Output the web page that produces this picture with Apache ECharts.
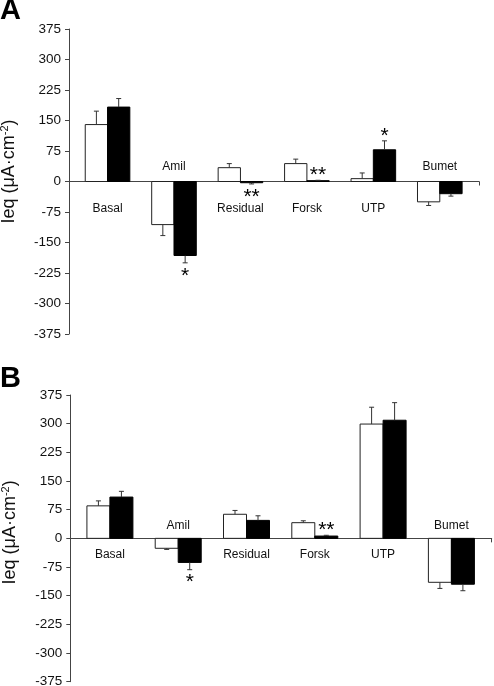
<!DOCTYPE html>
<html><head><meta charset="utf-8">
<script src="https://cdn.jsdelivr.net/npm/echarts@6/dist/echarts.min.js"></script>
<style>html,body{margin:0;padding:0;background:#fff}#c{width:494px;height:686px}</style>
</head><body><div id="c"></div>
<script>
// ---- data ----
const categories = ['Basal', 'Amil', 'Residual', 'Forsk', 'UTP', 'Bumet'];
// Panel A
const whiteA    = [140, -106, 34, 44, 7, -50];
const whiteErrA = [33, 27, 10, 11, 14, 9];
const blackA    = [183, -182, -3, 2, 78, -30];
const blackErrA = [21, 18, 3, 1, 22, 6];
const sigA      = ['', '*', '**', '**', '*', ''];
// Panel B
const whiteB    = [85, -26, 63, 41, 299, -115];
const whiteErrB = [13, 3, 10, 5, 44, 16];
const blackB    = [108, -63, 47, 6, 309, -120];
const blackErrB = [15, 19, 12, 2, 46, 17];
const sigB      = ['', '*', '', '**', '', ''];
// y axis ticks
const yMin = -375, yMax = 375, yStep = 75;

// ---- style ----
const FONT = '"Liberation Sans", Arial, Helvetica, sans-serif';
const AX = '#444';
const xMin = -0.58, xMax = 5.59;

const chart = echarts.init(document.getElementById('c'));

function barSeries(k, name, vals, side, bw, fill, stroke) {
  return { type: 'custom', name: name, xAxisIndex: k, yAxisIndex: k, z: 3,
    data: vals.map((v, i) => [i, v]), encode: { x: 0, y: 1 },
    renderItem: function (params, api) {
      const x = api.value(0), v = api.value(1);
      const p0 = api.coord([x, 0]);
      const p1 = api.coord([x, v]);
      const cx = p0[0] + side * bw / 2;
      return { type: 'rect',
        shape: { x: cx - bw / 2, y: Math.min(p0[1], p1[1]), width: bw, height: Math.abs(p1[1] - p0[1]) },
        style: { fill: fill, stroke: stroke, lineWidth: 1 } };
    } };
}

function panelSeries(k, white, whiteErr, black, blackErr, sig, cfg) {
  const bw = cfg.barW;
  const errData = [];
  white.forEach((v, i) => errData.push([i, v, whiteErr[i], -1]));
  black.forEach((v, i) => errData.push([i, v, blackErr[i], 1]));
  return [
    barSeries(k, 'control', white, -1, bw, '#fff', '#222'),
    barSeries(k, 'treated', black, 1, bw, '#000', '#000'),
    { type: 'custom', xAxisIndex: k, yAxisIndex: k, z: 5,
      data: errData, encode: { x: 0, y: 1 },
      renderItem: function (params, api) {
        const x = api.value(0), v = api.value(1), e = api.value(2), side = api.value(3);
        const s = v < 0 ? -1 : 1;
        const p0 = api.coord([x, v]);
        const p1 = api.coord([x, v + s * e]);
        const cx = p0[0] + side * bw / 2;
        const st = { stroke: '#333', lineWidth: 1 };
        return { type: 'group', children: [
          { type: 'line', shape: { x1: cx, y1: p0[1], x2: cx, y2: p1[1] }, style: st },
          { type: 'line', shape: { x1: cx - 2.5, y1: p1[1], x2: cx + 2.5, y2: p1[1] }, style: st }
        ] };
      } },
    { type: 'custom', xAxisIndex: k, yAxisIndex: k, z: 6,
      data: black.map((v, i) => [i, v, blackErr[i]]), encode: { x: 0, y: 1 },
      renderItem: function (params, api) {
        const t = sig[params.dataIndex];
        if (!t) return null;
        const x = api.value(0), v = api.value(1), e = api.value(2);
        const s = v < 0 ? -1 : 1;
        const p = api.coord([x, v + s * e]);
        const cx = p[0] + bw / 2;
        const cy = p[1] - s * cfg.starGap + cfg.starShift;
        return { type: 'text', x: cx, y: cy,
          style: { text: t, fill: '#000', fontSize: 21, fontFamily: FONT,
                   align: 'center', verticalAlign: 'middle' } };
      } },
    { type: 'custom', xAxisIndex: k, yAxisIndex: k, z: 6,
      data: categories.map((c, i) => [i, 0]), encode: { x: 0, y: 1 },
      renderItem: function (params, api) {
        const i = params.dataIndex;
        const above = white[i] < 0 && black[i] < 0;
        const p = api.coord([api.value(0), 0]);
        return { type: 'text', x: p[0], y: p[1] + (above ? -cfg.labUp : cfg.labDown),
          style: { text: categories[i], fill: '#111', fontSize: 12, fontFamily: FONT,
                   align: 'center', verticalAlign: 'middle' } };
      } }
  ];
}

function xAx(k) {
  return { type: 'value', gridIndex: k, min: xMin, max: xMax,
    axisLine: { show: true, onZero: true, lineStyle: { color: AX, width: 1 } },
    axisTick: { show: true, customValues: [xMax], length: 4, lineStyle: { color: AX } },
    axisLabel: { show: false }, splitLine: { show: false } };
}
function yAx(k, pad) {
  return { type: 'value', gridIndex: k, min: yMin, max: yMax, interval: yStep,
    name: '{m|Ieq (μA·cm}{s|-2}{m|)}', nameLocation: 'middle', nameGap: 50,
    nameTextStyle: { padding: [0, 0, 0, pad], rich: {
      m: { fontSize: 18, fontFamily: FONT, color: '#111', lineHeight: 20 },
      s: { fontSize: 11, fontFamily: FONT, color: '#111', verticalAlign: 'top', lineHeight: 20 } } },
    axisLine: { show: true, onZero: false, lineStyle: { color: AX, width: 1 } },
    axisTick: { show: true, length: 4, lineStyle: { color: AX } },
    axisLabel: { fontSize: 13.5, fontFamily: FONT, color: '#111', margin: 8 },
    splitLine: { show: false } };
}

chart.setOption({
  animation: false,
  backgroundColor: '#fff',
  title: [
    { text: 'A', left: 0, top: -4, padding: 0, textStyle: { fontSize: 29, fontWeight: 'bold', fontFamily: FONT, color: '#000' } },
    { text: 'B', left: 0, top: 364, padding: 0, textStyle: { fontSize: 29, fontWeight: 'bold', fontFamily: FONT, color: '#000' } }
  ],
  grid: [
    { left: 69, top: 29, width: 410, height: 305, containLabel: false, outerBoundsMode: 'none' },
    { left: 70.3, top: 395, width: 421.4, height: 286.7, containLabel: false, outerBoundsMode: 'none' }
  ],
  xAxis: [xAx(0), xAx(1)],
  yAxis: [yAx(0, 20), yAx(1, 12)],
  series: [].concat(
    panelSeries(0, whiteA, whiteErrA, blackA, blackErrA, sigA,
      { barW: 22.3, starGap: 9, starShift: 4, labUp: 15.3, labDown: 26.7 }),
    panelSeries(1, whiteB, whiteErrB, blackB, blackErrB, sigB,
      { barW: 23, starGap: 9, starShift: 4, labUp: 12.3, labDown: 16.7 })
  )
});
</script></body></html>
